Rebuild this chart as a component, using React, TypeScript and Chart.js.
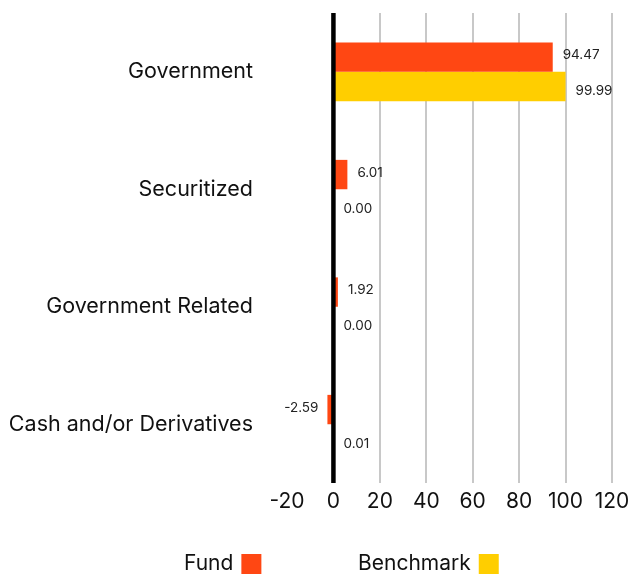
import React, { useEffect, useRef } from "react";
import { Chart, registerables } from "chart.js";

Chart.register(...registerables);

const categories = ["Government", "Securitized", "Government Related", "Cash and/or Derivatives"];
const fundValues = [94.47, 6.01, 1.92, -2.59];
const benchmarkValues = [99.99, 0.0, 0.0, 0.01];
const seriesNames = ["Fund", "Benchmark"];
const seriesColors = ["#FF4713", "#FFCE00"];
const xMin = -20;
const xMax = 120;
const xStep = 20;

const FONT = "Inter, 'Noto Sans', sans-serif";

export default function App() {
  const ref = useRef<HTMLCanvasElement | null>(null);

  useEffect(() => {
    document.body.style.margin = "0";
    const canvas = ref.current;
    if (!canvas) return;

    const zeroLine = {
      id: "zeroLine",
      afterDatasetsDraw(chart: any) {
        const ctx = chart.ctx;
        const x = chart.scales.x.getPixelForValue(0);
        const { top, bottom } = chart.chartArea;
        ctx.save();
        ctx.strokeStyle = "#000";
        ctx.lineWidth = 4.5;
        ctx.beginPath();
        ctx.moveTo(x, top);
        ctx.lineTo(x, bottom);
        ctx.stroke();
        ctx.restore();
      },
    };

    const labelShift = [-2, 4.5];

    const valueLabels = {
      id: "valueLabels",
      afterDatasetsDraw(chart: any) {
        const ctx = chart.ctx;
        ctx.save();
        ctx.font = `13.5px ${FONT}`;
        ctx.fillStyle = "#222";
        ctx.textBaseline = "middle";
        chart.data.datasets.forEach((ds: any, di: number) => {
          const meta = chart.getDatasetMeta(di);
          meta.data.forEach((el: any, i: number) => {
            const v = ds.data[i] as number;
            const txt = v.toFixed(2);
            const y = el.y + labelShift[di];
            if (v < 0) {
              ctx.textAlign = "right";
              ctx.fillText(txt, el.x - 9, y);
            } else {
              ctx.textAlign = "left";
              ctx.fillText(txt, el.x + 10, y);
            }
          });
        });
        ctx.restore();
      },
    };

    const customLegend = {
      id: "customLegend",
      afterDraw(chart: any) {
        const ctx = chart.ctx;
        ctx.save();
        ctx.font = `21px ${FONT}`;
        ctx.textBaseline = "middle";
        ctx.textAlign = "left";
        const y = 564;
        const starts = [184, 358];
        chart.data.datasets.forEach((ds: any, di: number) => {
          const x = starts[di];
          ctx.fillStyle = "#111";
          ctx.fillText(ds.label, x, y);
          const w = ctx.measureText(ds.label).width;
          ctx.fillStyle = ds.backgroundColor;
          ctx.fillRect(x + w + 8, y - 10, 20, 20);
        });
        ctx.restore();
      },
    };

    const chart = new Chart(canvas, {
      type: "bar",
      data: {
        labels: categories,
        datasets: [
          { label: seriesNames[0], data: fundValues, backgroundColor: seriesColors[0] },
          { label: seriesNames[1], data: benchmarkValues, backgroundColor: seriesColors[1] },
        ],
      },
      options: {
        indexAxis: "y",
        animation: false,
        responsive: false,
        maintainAspectRatio: false,
        layout: { padding: { left: 10, right: 19, top: 13, bottom: 56 } },
        datasets: { bar: { categoryPercentage: 0.5, barPercentage: 1.0 } },
        plugins: { legend: { display: false }, tooltip: { enabled: false } },
        scales: {
          x: {
            min: xMin,
            max: xMax,
            ticks: {
              stepSize: xStep,
              color: "#111",
              font: { family: FONT, size: 21 },
              padding: 6,
            },
            grid: {
              drawTicks: false,
              color: (c: any) =>
                c.tick && (c.tick.value === 0 || c.tick.value === xMin) ? "rgba(0,0,0,0)" : "#c8c8c8",
              lineWidth: 2,
            },
            border: { display: false },
            afterFit(scale: any) {
              scale.height = 40;
              scale.paddingLeft = 0;
              scale.paddingRight = 0;
            },
          },
          y: {
            ticks: {
              color: "#111",
              font: { family: FONT, size: 21.5 },
              padding: 34,
            },
            grid: { display: false, drawTicks: false },
            border: { display: false },
            afterFit(scale: any) {
              scale.width = 277;
              scale.paddingTop = 0;
              scale.paddingBottom = 0;
            },
          },
        },
      },
      plugins: [zeroLine, valueLabels, customLegend],
    });

    return () => chart.destroy();
  }, []);

  return (
    <div style={{ width: 631, height: 579 }}>
      <canvas ref={ref} width={631} height={579} style={{ display: "block" }} />
    </div>
  );
}
